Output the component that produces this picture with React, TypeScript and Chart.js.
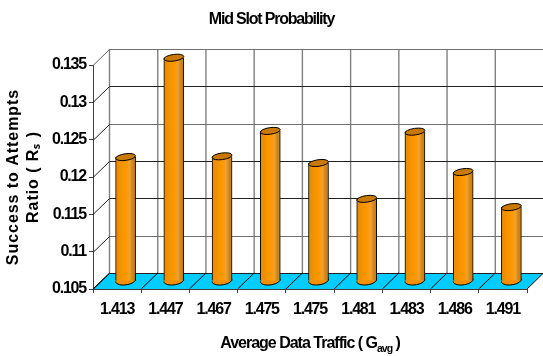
import React, { useEffect, useRef } from "react";
import { Chart, registerables } from "chart.js";

Chart.register(...registerables);

const categories = ["1.413", "1.447", "1.467", "1.475", "1.475", "1.481", "1.483", "1.486", "1.491"];
const values = [0.1216, 0.1349, 0.1217, 0.1251, 0.1208, 0.116, 0.125, 0.1196, 0.1149];
const yTicks = [0.105, 0.11, 0.115, 0.12, 0.125, 0.13, 0.135];
const chartTitle = "Mid Slot Probability";
const xTitle = "Average Data Traffic ( G";
const xTitleSub = "avg";
const xTitleEnd = " )";
const yTitle = ["Success to Attempts", "Ratio ( R\u209B )"];

const DX = 16.5;
const DY = -16;
const BAR_DX = 8.5;
const BAR_DY = -8;
const FONT = '"Liberation Sans", Arial, sans-serif';

const wallPlugin = {
  id: "wall3d",
  beforeDraw(chart: any) {
    chart.ctx.letterSpacing = "-1.2px";
  },
  beforeDatasetsDraw(chart: any) {
    const { ctx, chartArea: a, scales } = chart;
    const y = scales.y;
    ctx.save();
    ctx.beginPath();
    ctx.rect(0, 0, chart.width, chart.height);
    ctx.clip();
    // floor
    ctx.fillStyle = "#00CCFF";
    ctx.beginPath();
    ctx.moveTo(a.left, a.bottom);
    ctx.lineTo(a.left + DX, a.bottom + DY);
    ctx.lineTo(a.right + DX, a.bottom + DY);
    ctx.lineTo(a.right, a.bottom);
    ctx.closePath();
    ctx.fill();
    // vertical back wall lines
    ctx.strokeStyle = "#808080";
    ctx.lineWidth = 1.4;
    categories.forEach((_, i) => {
      const px = a.left + (i * (a.right - a.left)) / categories.length + DX;
      ctx.beginPath();
      ctx.moveTo(px, a.top + DY);
      ctx.lineTo(px, a.bottom + DY);
      ctx.stroke();
    });
    // horizontal back wall lines with their side-wall diagonals
    yTicks.forEach((t) => {
      const py = Math.round(y.getPixelForValue(t)) + 0.5;
      ctx.strokeStyle = t === 0.135 || t === 0.125 || t === 0.11 ? "#707070" : "#202020";
      ctx.lineWidth = 1;
      ctx.beginPath();
      ctx.moveTo(a.left + DX, py + DY);
      ctx.lineTo(a.right + DX, py + DY);
      ctx.stroke();
      ctx.strokeStyle = t === 0.135 ? "#606060" : "#202020";
      ctx.beginPath();
      ctx.moveTo(a.left, py);
      ctx.lineTo(a.left + DX, py + DY);
      ctx.stroke();
    });
    // floor lines
    ctx.strokeStyle = "#000000";
    ctx.lineWidth = 1;
    for (let i = 0; i <= categories.length; i++) {
      const px = a.left + (i * (a.right - a.left)) / categories.length;
      ctx.beginPath();
      ctx.moveTo(px, a.bottom);
      ctx.lineTo(px + DX, a.bottom + DY);
      ctx.stroke();
    }
    ctx.restore();
    // bars sit mid-depth
    ctx.save();
    ctx.translate(BAR_DX, BAR_DY);
    // bottom caps
    const meta = chart.getDatasetMeta(0);
    meta.data.forEach((bar: any) => {
      ctx.beginPath();
      ctx.ellipse(bar.x, bar.base, bar.width / 2, 4.4, (-8 * Math.PI) / 180, 0, Math.PI * 2);
      ctx.fillStyle = "#F08F00";
      ctx.fill();
      ctx.strokeStyle = "#000000";
      ctx.lineWidth = 1;
      ctx.beginPath();
      ctx.ellipse(bar.x, bar.base, bar.width / 2, 4.4, (-8 * Math.PI) / 180, -0.1, Math.PI + 0.1);
      ctx.stroke();
    });
  },
  afterDatasetsDraw(chart: any) {
    const { ctx } = chart;
    const meta = chart.getDatasetMeta(0);
    meta.data.forEach((bar: any) => {
      ctx.beginPath();
      ctx.ellipse(bar.x, bar.y, bar.width / 2, 3.3, (-8 * Math.PI) / 180, 0, Math.PI * 2);
      ctx.fillStyle = "#C97800";
      ctx.fill();
      ctx.strokeStyle = "#000000";
      ctx.lineWidth = 1;
      ctx.stroke();
    });
    ctx.restore();
    // axis titles
    ctx.save();
    ctx.fillStyle = "#000000";
    ctx.textBaseline = "alphabetic";
    ctx.letterSpacing = "-1px";
    ctx.font = `bold 16px ${FONT}`;
    ctx.textAlign = "left";
    const w1 = ctx.measureText(xTitle).width;
    const cx = 310;
    ctx.font = `bold 10.5px ${FONT}`;
    const w2 = ctx.measureText(xTitleSub).width;
    ctx.font = `bold 16px ${FONT}`;
    const w3 = ctx.measureText(xTitleEnd).width;
    const sx = cx - (w1 + w2 + w3) / 2;
    ctx.fillText(xTitle, sx, 348);
    ctx.fillText(xTitleEnd, sx + w1 + w2, 348);
    ctx.font = `bold 10.5px ${FONT}`;
    ctx.fillText(xTitleSub, sx + w1, 352);
    ctx.letterSpacing = "0.95px";
    ctx.font = `bold 16px ${FONT}`;
    ctx.textAlign = "center";
    ctx.save();
    ctx.translate(17.5, 177);
    ctx.rotate(-Math.PI / 2);
    ctx.fillText(yTitle[0], 0, 0);
    ctx.restore();
    ctx.save();
    ctx.translate(37.5, 177);
    ctx.rotate(-Math.PI / 2);
    ctx.fillText(yTitle[1], 0, 0);
    ctx.restore();
    ctx.restore();
  },
};

export default function App() {
  const ref = useRef<HTMLCanvasElement | null>(null);
  useEffect(() => {
    const chart = new Chart(ref.current as HTMLCanvasElement, {
      type: "bar",
      data: {
        labels: categories,
        datasets: [
          {
            data: values,
            base: 0.105,
            barThickness: 20,
            clip: false,
            borderColor: "#000000",
            borderWidth: { left: 1, right: 1, top: 0, bottom: 0 },
            borderSkipped: false,
            backgroundColor: (c: any) => {
              const sc = c.chart.scales.x;
              if (!sc || typeof c.dataIndex !== "number") return "#FF9900";
              const cx = sc.getPixelForValue(c.dataIndex);
              if (!Number.isFinite(cx)) return "#FF9900";
              const g = c.chart.ctx.createLinearGradient(cx - 10, 0, cx + 10, 0);
              g.addColorStop(0, "#E58A00");
              g.addColorStop(0.3, "#F59300");
              g.addColorStop(0.55, "#FF9900");
              g.addColorStop(0.7, "#F0A030");
              g.addColorStop(0.85, "#D08518");
              g.addColorStop(1, "#C47A10");
              return g;
            },
          } as any,
        ],
      },
      plugins: [wallPlugin as any],
      options: {
        animation: false,
        responsive: false,
        layout: { padding: { left: 16, right: 16, top: 0, bottom: 0 } },
        plugins: {
          legend: { display: false },
          tooltip: { enabled: false },
          title: {
            display: true,
            text: chartTitle,
            color: "#000000",
            font: { family: FONT, size: 16, weight: "bold" },
            padding: { top: 10, bottom: 35.8 },
          },
        },
        scales: {
          x: {
            afterFit: (s: any) => {
              s.height = 67;
            },
            grid: {
              offset: true,
              drawOnChartArea: false,
              drawTicks: true,
              tickLength: 4,
              color: "#404040",
            },
            border: { display: true, color: "#404040", width: 1 },
            ticks: {
              color: "#000000",
              padding: 7,
              maxRotation: 0,
              autoSkip: false,
              font: { family: FONT, size: 16, weight: "bold" },
            },
          },
          y: {
            min: 0.105,
            max: 0.135,
            afterFit: (s: any) => {
              s.width = 77;
            },
            afterBuildTicks: (s: any) => {
              s.ticks = yTicks.map((value) => ({ value }));
            },
            grid: { drawOnChartArea: false, drawTicks: true, tickLength: 4, color: "#404040" },
            border: { display: true, color: "#404040", width: 1 },
            ticks: {
              color: "#000000",
              padding: 3,
              callback: (v: any) => String(Number(Number(v).toFixed(3))),
              font: { family: FONT, size: 16, weight: "bold" },
            },
          },
        },
      } as any,
    });
    return () => chart.destroy();
  }, []);
  return (
    <canvas
      ref={ref}
      width={543}
      height={356}
      style={{ position: "fixed", left: 0, top: 0, width: 543, height: 356 }}
    />
  );
}
